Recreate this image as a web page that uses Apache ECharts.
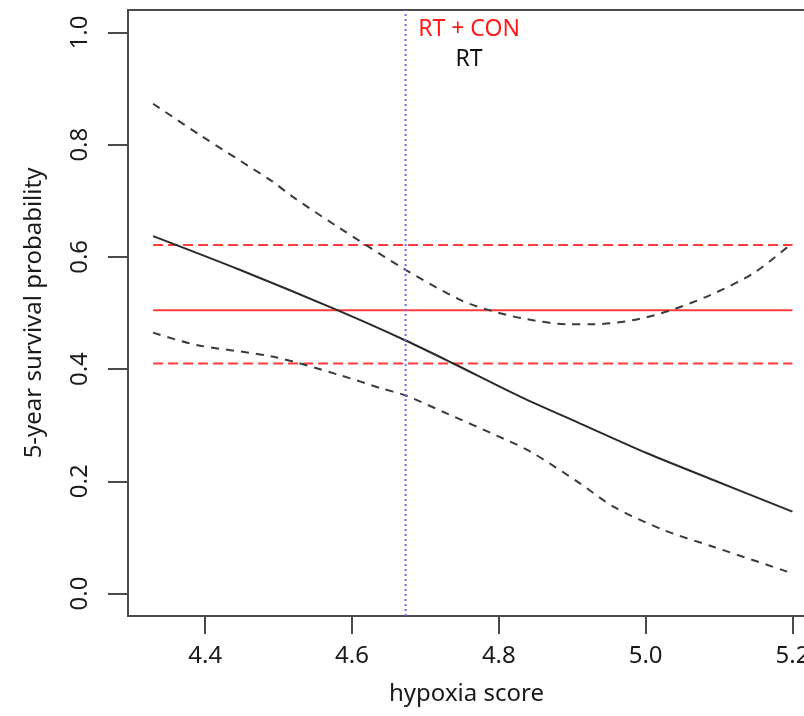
<!DOCTYPE html>
<html>
<head>
<meta charset="utf-8">
<script src="https://cdn.jsdelivr.net/npm/echarts@6/dist/echarts.min.js"></script>
<style>
  html, body { margin: 0; padding: 0; background: #fff; }
  #chart { width: 804px; height: 716px; }
</style>
</head>
<body>
<div id="chart"></div>
<script>
// Fitted 5-year survival for RT alone, with pointwise confidence band
const fitX   = [4.329, 4.447, 4.58, 4.673, 4.738, 4.829, 4.911, 5.002, 5.093, 5.2];
const fitY   = [0.637, 0.577, 0.505, 0.451, 0.410, 0.351, 0.303, 0.250, 0.202, 0.146];
const upperX = [4.329, 4.393, 4.492, 4.516, 4.58, 4.673, 4.748, 4.791, 4.838, 4.893, 4.929, 4.984, 5.031, 5.088, 5.147, 5.2];
const upperY = [0.873, 0.817, 0.734, 0.710, 0.654, 0.577, 0.523, 0.5035, 0.489, 0.480, 0.480, 0.4875, 0.5035, 0.532, 0.571, 0.625];
const lowerX = [4.329, 4.388, 4.493, 4.584, 4.639, 4.673, 4.729, 4.798, 4.843, 4.911, 4.956, 5.025, 5.093, 5.2];
const lowerY = [0.465, 0.443, 0.422, 0.389, 0.366, 0.353, 0.321, 0.281, 0.253, 0.196, 0.155, 0.113, 0.083, 0.036];

// RT + CON: constant estimate with its confidence limits
const conRange = [4.329, 5.2];
const conEst = 0.505;
const conUpper = 0.621;
const conLower = 0.410;

// Cut point on the hypoxia score
const cutPoint = 4.673;

// Axis ticks
const xTicks = [4.4, 4.6, 4.8, 5.0, 5.2];
const yTicks = [0.0, 0.2, 0.4, 0.6, 0.8, 1.0];

const FONT = 'Noto Sans';
const pair = (xs, ys) => xs.map((x, i) => [x, ys[i]]);
const flat = (y) => conRange.map(x => [x, y]);

const chart = echarts.init(document.getElementById('chart'), null, { renderer: 'canvas' });

chart.setOption({
  animation: false,
  backgroundColor: '#ffffff',
  grid: {
    left: 128, top: 10, width: 677, height: 606,
    outerBoundsMode: 'none', containLabel: false,
    show: true, borderColor: '#4a4a4a', borderWidth: 2, backgroundColor: 'transparent'
  },
  xAxis: {
    type: 'value', min: 4.2948, max: 5.2171,
    name: 'hypoxia score', nameLocation: 'middle', nameGap: 66,
    nameTextStyle: { fontFamily: FONT, fontSize: 24, color: '#1a1a1a' },
    axisLine: { show: true, onZero: false, lineStyle: { color: '#4a4a4a', width: 2 } },
    axisTick: { show: true, inside: false, length: 18, customValues: xTicks, lineStyle: { color: '#4a4a4a', width: 2 } },
    axisLabel: { customValues: xTicks, margin: 28, fontFamily: FONT, fontSize: 24, color: '#1a1a1a',
                 formatter: v => v.toFixed(1) },
    splitLine: { show: false }
  },
  yAxis: {
    type: 'value', min: -0.04, max: 1.04,
    name: '5-year survival probability', nameLocation: 'middle', nameGap: 82,
    nameTextStyle: { fontFamily: FONT, fontSize: 24, color: '#1a1a1a' },
    axisLine: { show: true, onZero: false, lineStyle: { color: '#4a4a4a', width: 2 } },
    axisTick: { show: true, inside: false, length: 20, customValues: yTicks, lineStyle: { color: '#4a4a4a', width: 2 } },
    axisLabel: { customValues: yTicks, margin: 36, rotate: 90, fontFamily: FONT, fontSize: 24, color: '#1a1a1a',
                 formatter: v => v.toFixed(1) },
    splitLine: { show: false }
  },
  graphic: [
    { type: 'text', x: 469, y: 29, style: { text: 'RT + CON', x: 0, y: 0, align: 'center', verticalAlign: 'middle',
      fill: '#ff1a1a', font: '23px "Noto Sans"' } },
    { type: 'text', x: 469, y: 59, style: { text: 'RT', x: 0, y: 0, align: 'center', verticalAlign: 'middle',
      fill: '#111111', font: '23px "Noto Sans"' } }
  ],
  series: [
    { type: 'line', data: flat(conEst), showSymbol: false, silent: true,
      lineStyle: { color: '#ff3b3b', width: 2 } },
    { type: 'line', data: flat(conUpper), showSymbol: false, silent: true,
      lineStyle: { color: '#ff3b3b', width: 2, type: [10, 5] } },
    { type: 'line', data: flat(conLower), showSymbol: false, silent: true,
      lineStyle: { color: '#ff3b3b', width: 2, type: [10, 5] } },
    { type: 'line', data: pair(fitX, fitY), showSymbol: false, silent: true, smooth: 0.3,
      lineStyle: { color: '#2a2a2a', width: 2 } },
    { type: 'line', data: pair(upperX, upperY), showSymbol: false, silent: true, smooth: 0.3,
      lineStyle: { color: '#3a3a3a', width: 2, type: [8, 7] } },
    { type: 'line', data: pair(lowerX, lowerY), showSymbol: false, silent: true, smooth: 0.3,
      lineStyle: { color: '#3a3a3a', width: 2, type: [8, 7] } },
    { type: 'line', data: [[cutPoint, -0.04], [cutPoint, 1.04]], showSymbol: false, silent: true,
      lineStyle: { color: '#6a6aff', width: 2, type: [2, 3] } }
  ]
});
</script>
</body>
</html>
